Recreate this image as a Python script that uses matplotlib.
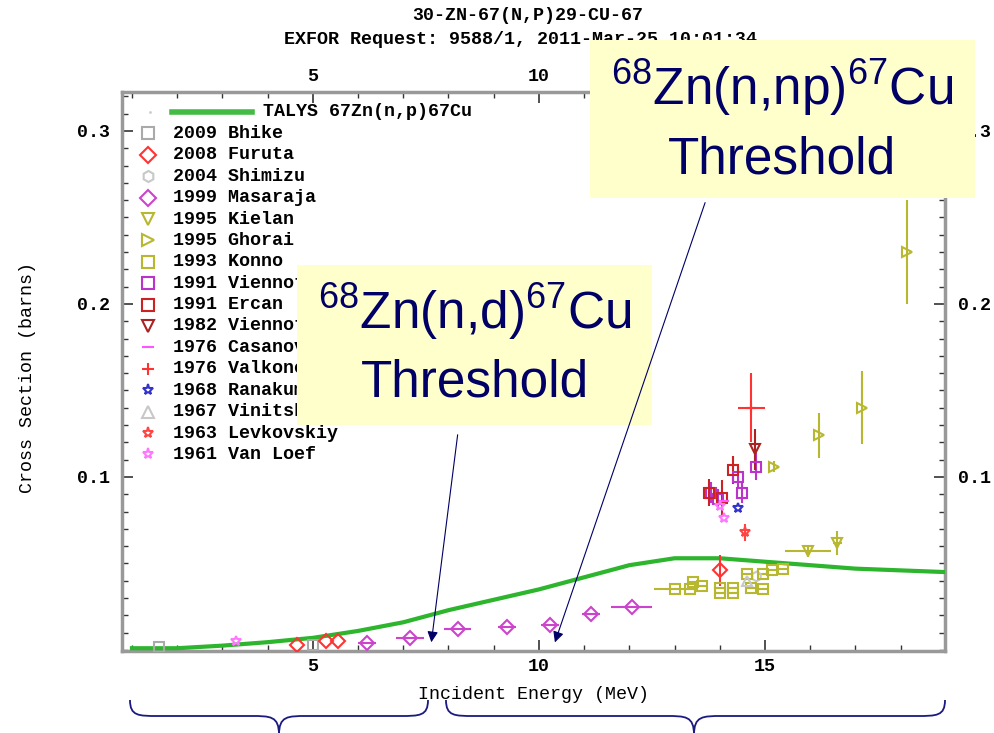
import matplotlib
matplotlib.use('Agg')
import matplotlib.pyplot as plt
from matplotlib.patches import Rectangle, FancyArrowPatch, PathPatch
from matplotlib.path import Path
from matplotlib.ticker import MultipleLocator

plt.rcParams['font.family'] = ['Liberation Mono', 'DejaVu Sans Mono']
plt.rcParams['font.weight'] = 'bold'
plt.rcParams['mathtext.fontset'] = 'custom'
plt.rcParams['mathtext.rm'] = 'Liberation Sans:weight=normal'

# TALYS calculation
talys_e = [1, 2, 3, 4, 5, 6, 7, 8, 9, 10, 11, 12, 13, 14, 15, 16, 17, 18, 19]
talys_xs = [0.001, 0.001, 0.0025, 0.0045, 0.007, 0.011, 0.016, 0.023, 0.029, 0.035,
            0.042, 0.049, 0.053, 0.053, 0.051, 0.049, 0.047, 0.046, 0.045]

# experimental sets: energies, cross sections, x errors, y errors
bhike_e = [1.6, 5.0]
bhike_xs = [0.002, 0.003]
furuta_e = [4.65, 5.3, 5.55, 14.0]
furuta_xs = [0.003, 0.005, 0.005, 0.046]
furuta_dy = [0.0, 0.0, 0.0, 0.009]
shimizu_e = [14.8]
shimizu_xs = [0.043]
masaraja_e = [6.2, 7.15, 8.2, 9.3, 10.25, 11.15, 12.05]
masaraja_xs = [0.004, 0.007, 0.012, 0.013, 0.0145, 0.021, 0.025]
masaraja_dx = [0.2, 0.3, 0.3, 0.2, 0.2, 0.2, 0.45]
kielan_e = [15.95, 16.6]
kielan_xs = [0.057, 0.062]
kielan_dx = [0.5, 0.1]
kielan_dy = [0.003, 0.007]
ghorai_e = [15.2, 16.2, 17.15, 18.15]
ghorai_xs = [0.106, 0.124, 0.140, 0.230]
ghorai_dy = [0.003, 0.013, 0.021, 0.030]
konno_e = [13.0, 13.35, 13.4, 13.6, 14.0, 14.3, 14.0, 14.3, 14.6, 14.7, 14.95, 14.95, 15.15, 15.4]
konno_xs = [0.035, 0.035, 0.039, 0.037, 0.036, 0.036, 0.033, 0.033, 0.044, 0.036, 0.035, 0.044, 0.046, 0.047]
konno_dx = [0.45, 0.1, 0.1, 0.1, 0.1, 0.1, 0.1, 0.1, 0.1, 0.1, 0.1, 0.1, 0.1, 0.1]
viennot91_e = [13.8, 13.95, 14.4, 14.5, 14.8]
viennot91_xs = [0.091, 0.087, 0.100, 0.091, 0.106]
viennot91_dy = [0.006, 0.006, 0.006, 0.006, 0.008]
ercan_e = [13.75, 14.05, 14.3]
ercan_xs = [0.091, 0.088, 0.104]
ercan_dy = [0.008, 0.010, 0.008]
viennot82_e = [14.78]
viennot82_xs = [0.116]
viennot82_dy = [0.012]
casanova_e = [14.1]
casanova_xs = [0.086]
valkonen_e = [14.7]
valkonen_xs = [0.140]
valkonen_dx = [0.3]
valkonen_dy = [0.020]
ranakumar_e = [14.4]
ranakumar_xs = [0.082]
vinitskij_e = [14.6]
vinitskij_xs = [0.040]
levkovskiy_e = [14.55]
levkovskiy_xs = [0.068]
levkovskiy_dy = [0.005]
vanloef_e = [3.3, 14.0, 14.1]
vanloef_xs = [0.005, 0.083, 0.076]

W, H = 994, 733
def fx(px):
    return px / W
def fy(py):
    return 1 - py / H

fig = plt.figure(figsize=(W / 100, H / 100), dpi=100)
ax_w = (945 - 122) / W
ax = fig.add_axes([fx(122), fy(651), ax_w, (651 - 92) / H])

navy = '#000066'
fs = 13.2
series = [
    ('2009 Bhike', bhike_e, bhike_xs, None, None, '#aaaaaa', 's'),
    ('2008 Furuta', furuta_e, furuta_xs, None, furuta_dy, '#ff3333', 'D'),
    ('2004 Shimizu', shimizu_e, shimizu_xs, None, None, '#c8c8c8', 'h'),
    ('1999 Masaraja', masaraja_e, masaraja_xs, masaraja_dx, None, '#cc44cc', 'D'),
    ('1995 Kielan', kielan_e, kielan_xs, kielan_dx, kielan_dy, '#b8b830', 'v'),
    ('1995 Ghorai', ghorai_e, ghorai_xs, None, ghorai_dy, '#b8b830', '>'),
    ('1993 Konno', konno_e, konno_xs, konno_dx, None, '#b8b830', 's'),
    ('1991 Viennot', viennot91_e, viennot91_xs, None, viennot91_dy, '#bb33cc', 's'),
    ('1991 Ercan', ercan_e, ercan_xs, None, ercan_dy, '#cc2222', 's'),
    ('1982 Viennot', viennot82_e, viennot82_xs, None, viennot82_dy, '#aa2222', 'v'),
    ('1976 Casanova', casanova_e, casanova_xs, None, None, '#ff55ff', '_'),
    ('1976 Valkonen', valkonen_e, valkonen_xs, valkonen_dx, valkonen_dy, '#ff3333', '+'),
    ('1968 Ranakumar', ranakumar_e, ranakumar_xs, None, None, '#3333cc', '*'),
    ('1967 Vinitskij', vinitskij_e, vinitskij_xs, None, None, '#c8c8c8', '^'),
    ('1963 Levkovskiy', levkovskiy_e, levkovskiy_xs, None, levkovskiy_dy, '#ff4444', '*'),
    ('1961 Van Loef', vanloef_e, vanloef_xs, None, None, '#ff77ff', '*'),
]

ax.plot(talys_e, talys_xs, color='#2db52d', lw=3, zorder=3)

for name, e, xs, dx, dy, col, mk in series:
    ax.errorbar(e, xs, xerr=dx, yerr=dy, fmt=mk, color=col, mfc='none', mec=col,
                ms=7, mew=1.5, elinewidth=1.5, capsize=0, zorder=4)

ax.set_xlim(0.78, 18.98)
ax.set_ylim(-0.0006, 0.3225)
ax.xaxis.set_major_locator(MultipleLocator(5))
ax.xaxis.set_minor_locator(MultipleLocator(1))
ax.set_yticks([0.1, 0.2, 0.3])
ax.set_yticklabels(['0.1', '0.2', '0.3'])
ax.yaxis.set_minor_locator(MultipleLocator(0.01))
ax.tick_params(which='both', direction='in', top=True, right=True,
               labeltop=True, labelright=True, color='#333333', labelsize=fs)
ax.tick_params(which='major', length=8, width=1.2, pad=5)
ax.tick_params(axis='y', which='major', pad=9)
ax.tick_params(which='minor', length=4, width=1)
for s in ax.spines.values():
    s.set_color('#999999')
    s.set_linewidth(2.5)

# top "15" sits under the callout box in the original
fig.canvas.draw()
for t in ax.xaxis.get_major_ticks():
    if abs(t.get_loc() - 15) < 1e-6:
        t.label2.set_visible(False)

ax.set_xlabel('Incident Energy (MeV)', fontsize=fs, labelpad=8)
ax.set_ylabel('Cross Section (barns)', fontsize=fs)
ax.yaxis.set_label_coords(fx(36 - 122) / ax_w, 0.49)

fig.text(fx(528), fy(15), '30-ZN-67(N,P)29-CU-67', ha='center', va='center', fontsize=fs)
fig.text(fx(521), fy(40), 'EXFOR Request: 9588/1, 2011-Mar-25 10:01:34',
         ha='center', va='center', fontsize=fs)

# legend drawn by hand like the EXFOR plot
y0, dy_leg = 112, 21.4
ax.plot([fx(150)], [fy(y0)], marker='.', ms=2, color='#cccccc', transform=fig.transFigure, clip_on=False)
ax.plot([fx(172), fx(252)], [fy(y0), fy(y0)], color='#44bb44', lw=4,
        transform=fig.transFigure, clip_on=False)
fig.text(fx(263), fy(y0), 'TALYS 67Zn(n,p)67Cu', va='center', fontsize=fs)
for i, (name, e, xs, dx, dy, col, mk) in enumerate(series):
    yy = fy(y0 + (i + 1) * dy_leg)
    ax.plot([fx(148)], [yy], marker=mk, ms=8, mfc='none', mec=col, mew=1.5,
            transform=fig.transFigure, clip_on=False)
    fig.text(fx(173), yy, name, va='center', fontsize=fs)

# threshold callouts
def callout(x0, y0b, x1, y1b, label, cx, ly1, ly2):
    fig.add_artist(Rectangle((fx(x0), fy(y1b)), (x1 - x0) / W, (y1b - y0b) / H,
                             transform=fig.transFigure, facecolor='#ffffcc',
                             edgecolor='none', zorder=10))
    fig.text(fx(cx), fy(ly1), label, ha='center', va='center', fontsize=37,
             family='Liberation Sans', weight='normal', color=navy, zorder=11)
    fig.text(fx(cx), fy(ly2), 'Threshold', ha='center', va='center', fontsize=37,
             family='Liberation Sans', weight='normal', color=navy, zorder=11)

callout(590, 40, 975, 198, r'$^{68}$Zn(n,np)$^{67}$Cu', 782, 88, 160)
callout(297, 265, 652, 425, r'$^{68}$Zn(n,d)$^{67}$Cu', 475, 312, 383)

for (xa, ya), (xb, yb) in [((458, 432), (431, 645)), ((706, 200), (554, 645))]:
    fig.add_artist(FancyArrowPatch((fx(xa), fy(ya)), (fx(xb), fy(yb)),
                                   transform=fig.transFigure, arrowstyle='-|>',
                                   mutation_scale=16, color=navy, lw=0.8, zorder=12))

# braces under the axis
def brace(xl, xr, xt, ytop=700, ymid=716, ybot=735, r=28):
    pts = [(xl, ytop), (xl, ymid), (xl + r * 0.3, ymid), (xl + r, ymid),
           (xt - r, ymid),
           (xt - r * 0.3, ymid), (xt, ymid), (xt, ybot),
           (xt, ymid), (xt + r * 0.3, ymid), (xt + r, ymid),
           (xr - r, ymid),
           (xr - r * 0.3, ymid), (xr, ymid), (xr, ytop)]
    codes = [Path.MOVETO, Path.CURVE4, Path.CURVE4, Path.CURVE4,
             Path.LINETO,
             Path.CURVE4, Path.CURVE4, Path.CURVE4,
             Path.CURVE4, Path.CURVE4, Path.CURVE4,
             Path.LINETO,
             Path.CURVE4, Path.CURVE4, Path.CURVE4]
    p = Path([(fx(a), fy(b)) for a, b in pts], codes)
    fig.add_artist(PathPatch(p, transform=fig.transFigure, facecolor='none',
                             edgecolor='#1a1a80', lw=1.3))

brace(130, 428, 279)
brace(446, 945, 694)

plt.savefig('out.png', dpi=100)
